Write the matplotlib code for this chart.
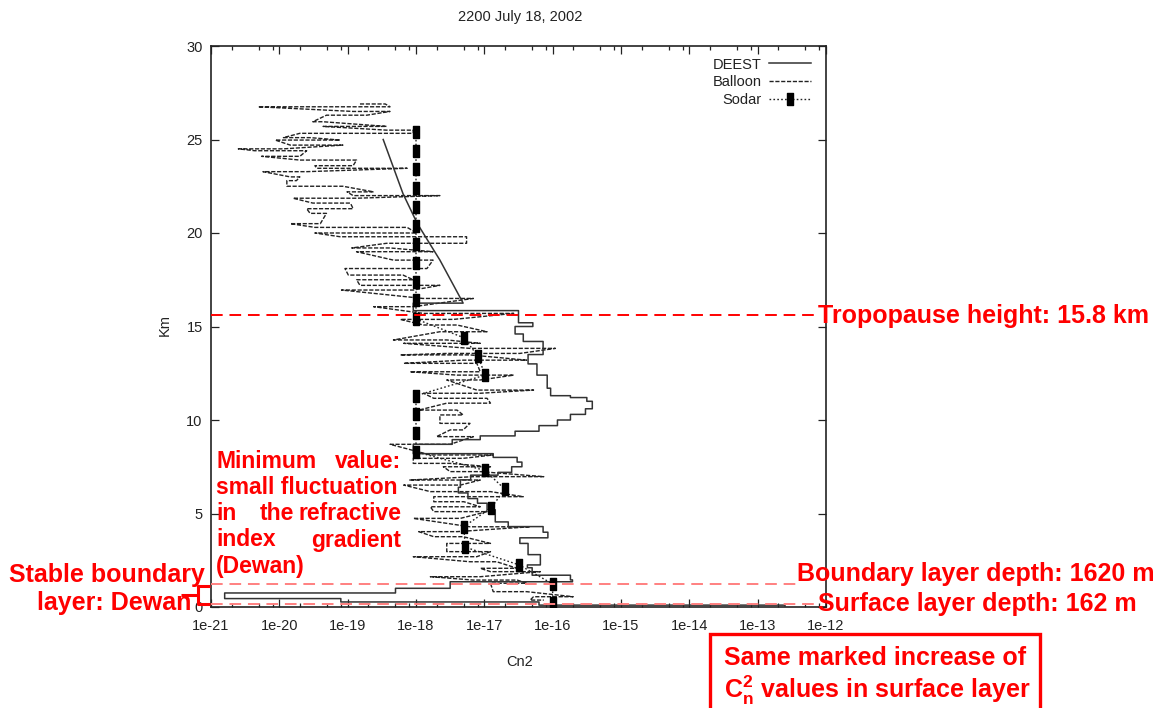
import numpy as np
import matplotlib
matplotlib.use('Agg')
import matplotlib.pyplot as plt
from matplotlib.lines import Line2D
from matplotlib.patches import Rectangle
import matplotlib.transforms as mtransforms
from matplotlib.ticker import FixedLocator, FixedFormatter, LogLocator, NullFormatter

plt.rcParams['font.family'] = ['Liberation Sans', 'DejaVu Sans']
plt.rcParams['mathtext.fontset'] = 'custom'
plt.rcParams['mathtext.rm'] = 'Liberation Sans:bold'
plt.rcParams['mathtext.it'] = 'Liberation Sans:bold'
plt.rcParams['mathtext.bf'] = 'Liberation Sans:bold'

# ---------------- data ----------------
title = "2200 July 18, 2002"
xtick_vals = [-21, -20, -19, -18, -17, -16, -15, -14, -13, -12]
xtick_labels = ['1e-21', '1e-20', '1e-19', '1e-18', '1e-17', '1e-16', '1e-15', '1e-14', '1e-13', '1e-12']
ytick_vals = [0, 5, 10, 15, 20, 25, 30]

# DEEST model: upper smooth part (km, log10 Cn2)
deest_upper_km = [25.0, 22.1, 20.5, 18.55, 16.25]
deest_upper_log = [-18.48, -18.19, -17.98, -17.65, -17.31]
# DEEST layered part: layer boundaries (km) and layer values (log10 Cn2)
deest_bounds_km = [16.25, 15.85, 15.2, 15.0, 14.6, 14.2, 13.5, 13.0, 12.4, 11.7,
                   11.3, 11.2, 11.0, 10.6, 10.3, 10.0, 9.7, 9.4, 9.15, 8.95,
                   8.7, 8.2, 8.0, 7.75, 7.5, 7.2, 7.05, 6.8, 6.4, 6.1,
                   5.8, 5.55, 5.2, 4.55, 4.3, 4.0, 3.7, 3.4, 2.8, 2.25,
                   2.1, 1.7, 1.45, 1.35, 1.0, 0.75, 0.45, 0.27, 0.1, 0.02]
deest_layer_log = [-18.04, -16.5, -16.29, -16.55, -16.43, -16.14, -16.36, -16.23, -16.08, -16.03,
                   -15.74, -15.5, -15.42, -15.52, -15.74, -15.93, -16.2, -16.55, -17.06, -17.47,
                   -18.04, -16.87, -16.52, -16.45, -16.6, -16.8, -17.2, -17.35, -17.38, -17.24,
                   -17.1, -16.96, -16.84, -16.65, -16.14, -16.07, -16.48, -16.36, -16.18, -16.37,
                   -16.3, -15.74, -15.71, -17.5, -18.3, -20.8, -19.1, -16.2, -12.6]

# Balloon: height of each excursion and its low / high log10 Cn2 ends
balloon_km = [26.9, 26.75, 26.5, 26.3, 25.95, 25.7, 25.5, 25.33, 25.1, 24.97,
              24.7, 24.5, 24.4, 24.1, 23.9, 23.6, 23.46, 23.28, 23.0, 22.8,
              22.5, 22.2, 22.0, 21.86, 21.6, 21.3, 21.05, 20.5, 20.3, 20.0,
              19.8, 19.45, 19.2, 19.0, 18.55, 18.1, 17.75, 17.5, 17.2, 16.95,
              16.5, 16.06, 15.7, 15.38, 15.08, 14.72, 14.28, 14.1, 13.83, 13.56,
              13.48, 13.2, 13.03, 12.58, 12.4, 12.14, 11.6, 11.43, 11.16, 10.9,
              10.53, 10.27, 9.82, 9.47, 9.11, 8.7, 8.13, 7.95, 7.68, 7.5,
              7.24, 6.97, 6.79, 6.52, 6.17, 5.9, 5.63, 5.36, 5.1, 4.74,
              4.29, 4.03, 3.76, 3.4, 2.96, 2.69, 2.42, 2.07, 1.89, 1.62,
              1.44, 1.27, 0.82, 0.55, 0.37]
balloon_lo = [-18.82, -20.31, -18.92, -19.31, -19.51, -19.36, -18.43, -19.70, -19.94, -20.06,
              -19.84, -20.60, -20.36, -20.26, -19.70, -19.48, -19.45, -20.24, -19.84, -19.89,
              -19.89, -19.01, -18.92, -19.80, -19.51, -19.60, -19.55, -19.84, -19.48, -19.48,
              -19.11, -18.43, -18.94, -18.87, -18.33, -19.04, -18.99, -18.87, -18.82, -19.09,
              -17.90, -18.62, -17.89, -18.23, -17.89, -17.65, -18.33, -18.18, -17.21, -17.55,
              -18.23, -17.31, -18.18, -18.09, -17.40, -17.55, -17.11, -17.89, -17.74, -17.55,
              -17.96, -17.65, -17.65, -17.50, -17.70, -18.38, -17.79, -18.04, -18.04, -17.60,
              -17.50, -17.16, -18.09, -18.18, -17.79, -17.74, -17.74, -17.79, -17.74, -18.04,
              -17.21, -17.96, -17.74, -17.55, -17.55, -18.04, -17.21, -17.06, -16.91, -17.79,
              -17.16, -16.91, -16.87, -16.28, -16.33]
balloon_hi = [-18.45, -18.38, -18.38, -18.72, -19.36, -18.43, -18.04, -18.04, -19.55, -19.11,
              -19.07, -19.94, -19.60, -19.70, -18.87, -18.92, -18.13, -19.60, -19.70, -19.75,
              -19.07, -18.62, -17.65, -18.87, -18.96, -18.92, -19.31, -19.40, -18.13, -17.99,
              -17.26, -17.26, -18.38, -17.75, -17.75, -17.84, -18.19, -18.04, -17.65, -18.04,
              -17.16, -18.04, -16.57, -17.45, -17.40, -16.96, -17.55, -17.06, -15.96, -16.48,
              -17.21, -16.38, -17.11, -17.06, -16.57, -17.06, -16.28, -17.06, -16.96, -16.91,
              -17.40, -17.31, -17.21, -17.31, -17.16, -17.50, -16.87, -17.31, -17.50, -16.91,
              -17.06, -16.13, -17.06, -17.35, -16.91, -16.43, -17.30, -17.06, -16.96, -17.35,
              -16.33, -17.40, -17.31, -16.91, -16.91, -17.11, -16.82, -16.52, -16.18, -17.06,
              -16.52, -16.38, -16.38, -15.70, -16.13]

# Sodar
sodar_km = [25.4, 24.4, 23.4, 22.4, 21.4, 20.4, 19.4, 18.4, 17.4, 16.4,
            15.4, 14.4, 13.4, 12.4, 11.3, 10.3, 9.3, 8.3, 7.3, 6.3,
            5.3, 4.3, 3.2, 2.25, 1.23, 0.2]
sodar_log = [-18.0, -18.0, -18.0, -18.0, -18.0, -18.0, -18.0, -18.0, -18.0, -18.0,
             -18.0, -17.3, -17.09, -16.99, -18.0, -18.0, -18.0, -18.0, -16.99, -16.70,
             -16.9, -17.3, -17.28, -16.49, -16.0, -16.0]

# annotated heights (km, as drawn)
tropopause_km = 15.6
boundary_km = 1.23
surface_km = 0.16

# ---------------- figure ----------------
W, H = 1163, 708
fig = plt.figure(figsize=(W / 100, H / 100), dpi=100)
def fx(p):
    return p / W
def fy(p):
    return 1 - p / H

ax = fig.add_axes([fx(211), fy(607), fx(826) - fx(211), fy(46) - fy(607)])
ax.set_xscale('log')
ax.set_xlim(1e-21, 1e-12)
ax.set_ylim(0, 30)

ink = '#222222'

# DEEST
dx = list(deest_upper_log)
dy = list(deest_upper_km)
n = min(len(deest_layer_log), len(deest_bounds_km) - 1)
for i in range(n):
    dx += [deest_layer_log[i], deest_layer_log[i]]
    dy += [deest_bounds_km[i], deest_bounds_km[i + 1]]
ax.plot(10 ** np.array(dx), dy, color='#333333', lw=1.1, label='DEEST', zorder=3)

# Balloon
bx, by = [], []
for i, (h, lo, hi) in enumerate(zip(balloon_km, balloon_lo, balloon_hi)):
    if i % 2 == 0:
        bx += [lo, hi]
    else:
        bx += [hi, lo]
    by += [h, h]
ax.plot(10 ** np.array(bx), by, color=ink, lw=1.0, dashes=(3.0, 1.2), label='Balloon', zorder=2)

# Sodar
rect_marker = [(-0.55, -1), (0.55, -1), (0.55, 1), (-0.55, 1), (-0.55, -1)]
ax.plot(10 ** np.array(sodar_log), sodar_km, color=ink, lw=1.0, ls=(0, (1.2, 1.6)),
        marker=rect_marker, markersize=8, markerfacecolor='black', markeredgecolor='black',
        label='Sodar', zorder=4)

# axes styling
ax.xaxis.set_major_locator(FixedLocator([10.0 ** v for v in xtick_vals]))
ax.xaxis.set_major_formatter(FixedFormatter(xtick_labels))
ax.xaxis.set_minor_locator(LogLocator(base=10, subs=(2.0, 5.0, 8.0), numticks=40))
ax.xaxis.set_minor_formatter(NullFormatter())
ax.set_yticks(ytick_vals)
ax.set_yticklabels([str(v) for v in ytick_vals])
ax.tick_params(which='both', direction='in', top=True, right=True, colors=ink, width=0.9)
ax.tick_params(which='major', length=6, labelsize=10.5)
ax.tick_params(which='minor', length=3)
ax.tick_params(axis='x', pad=9)
ax.tick_params(axis='y', pad=6)
for s in ax.spines.values():
    s.set_color(ink)
    s.set_linewidth(1.2)

leg = ax.legend(loc='upper right', bbox_to_anchor=(0.99, 0.995), frameon=False, markerfirst=False,
                fontsize=10.5, handlelength=2.9, handletextpad=0.5, labelspacing=0.25,
                borderaxespad=0.2, numpoints=1)
for t in leg.get_texts():
    t.set_color(ink)

fig.text(fx(520), fy(17), title, ha='center', va='center', fontsize=10.5, color=ink)
fig.text(fx(520), fy(662), 'Cn2', ha='center', va='center', fontsize=10.5, color=ink)
fig.text(fx(165), fy(325), 'Km', ha='center', va='center', rotation=90, fontsize=10.5, color=ink)

# ---------------- red annotations ----------------
red = '#ff0000'
pink = '#ff8080'
bt = mtransforms.blended_transform_factory(fig.transFigure, ax.transData)
ax.add_line(Line2D([fx(211), fx(815)], [tropopause_km, tropopause_km], transform=bt,
                   color=red, lw=1.4, dashes=(6, 3.5), clip_on=False, zorder=5))
ax.add_line(Line2D([fx(211), fx(800)], [boundary_km, boundary_km], transform=bt,
                   color=pink, lw=1.4, dashes=(6, 3.5), clip_on=False, zorder=5))
ax.add_line(Line2D([fx(211), fx(814)], [surface_km, surface_km], transform=bt,
                   color=pink, lw=1.4, dashes=(6, 3.5), clip_on=False, zorder=5))

rfont = dict(family=['Liberation Sans', 'DejaVu Sans'], weight='bold', color=red, fontsize=18)
pfont = dict(rfont, fontsize=16.5)
fig.text(fx(818), fy(316), 'Tropopause height: 15.8 km', ha='left', va='center', **rfont)
fig.text(fx(797), fy(574), 'Boundary layer depth: 1620 m', ha='left', va='center', **rfont)
fig.text(fx(818), fy(604), 'Surface layer depth: 162 m', ha='left', va='center', **rfont)

# justified paragraph
L, R = fx(216), fx(401)
fig.text(L, fy(462), 'Minimum', ha='left', va='center', **pfont)
fig.text(R, fy(462), 'value:', ha='right', va='center', **pfont)
fig.text(L, fy(487), 'small fluctuation', ha='left', va='center', **pfont)
fig.text(L, fy(513), 'in', ha='left', va='center', **pfont)
fig.text(fx(277), fy(513), 'the', ha='center', va='center', **pfont)
fig.text(R, fy(513), 'refractive', ha='right', va='center', **pfont)
fig.text(L, fy(540), 'index', ha='left', va='center', **pfont)
fig.text(R, fy(540), 'gradient', ha='right', va='center', **pfont)
fig.text(L, fy(566), '(Dewan)', ha='left', va='center', **pfont)

fig.text(fx(107), fy(575), 'Stable boundary', ha='center', va='center', **rfont)
fig.text(fx(114), fy(603), 'layer: Dewan', ha='center', va='center', **rfont)

# bracket
br = dict(color=red, lw=2.2, solid_capstyle='butt')
fig.add_artist(Line2D([fx(210), fx(198), fx(198), fx(210)], [fy(586), fy(586), fy(604), fy(604)], **br))
fig.add_artist(Line2D([fx(181), fx(198)], [fy(595), fy(595)], **br))

# box
fig.add_artist(Rectangle((fx(710), fy(712)), fx(1040) - fx(710), fy(634) - fy(712),
                         fill=False, edgecolor=red, lw=2.4, transform=fig.transFigure))
fig.text(fx(724), fy(658), 'Same marked increase of', ha='left', va='center', **rfont)
fig.text(fx(724), fy(690), r'C$_{\mathrm{n}}^{\mathrm{2}}$ values in surface layer', ha='left', va='center', **rfont)

fig.savefig('out.png', dpi=100, facecolor='white')
